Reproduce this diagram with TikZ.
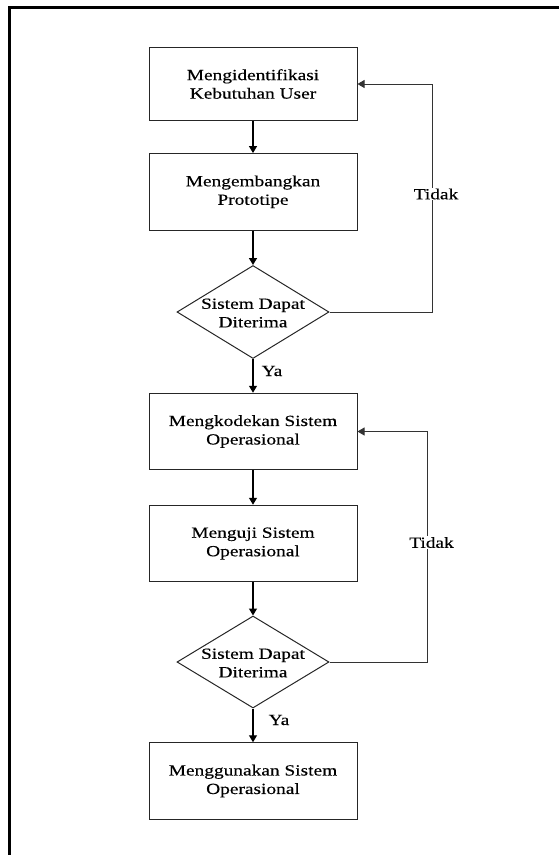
\documentclass[tikz,border=0pt]{standalone}
\usepackage{fontspec}
\setmainfont{Liberation Serif}[FakeStretch=1.25, FakeBold=0.3]
\usetikzlibrary{arrows.meta,shapes.geometric}

\tikzset{
  procbox/.style={draw=black!85, line width=1pt, rectangle, minimum width=208pt,
    minimum height=76.5pt, inner sep=0pt, align=center},
  decision/.style={draw=black!85, line width=1pt, diamond, minimum width=152pt,
    minimum height=93pt, inner sep=0pt},
  flow/.style={line width=1.5pt, -{Triangle[length=7pt,width=8pt]}},
  loopback/.style={draw=black!80, line width=1pt, -{Triangle[length=7pt,width=8pt]}},
  tag/.style={fill=white, inner sep=1pt},
}

\begin{document}
\begin{tikzpicture}[x=1pt, y=-1pt, font=\fontsize{15.5}{18.5}\selectfont]
\useasboundingbox (0,0) rectangle (558,855);

% page frame, open on the right and at the bottom
\draw[line width=2.2pt] (9.5,860) -- (9.5,7.5) -- (562,7.5);

% first phase: prototyping
\node[procbox, minimum height=73pt] (b1) at (253,84) {Mengidentifikasi\\Kebutuhan User};
\node[procbox] (b2) at (253,191.8) {Mengembangkan\\Prototipe};
\node[decision, label={[align=center, yshift=-1pt]center:Sistem Dapat\\Diterima}] (d1) at (253,312) {};

% second phase: operational system
\node[procbox] (b3) at (253,431.5) {Mengkodekan Sistem\\Operasional};
\node[procbox] (b4) at (253,543.5) {Menguji Sistem\\Operasional};
\node[decision, minimum height=92pt, label={[align=center, yshift=-1pt]center:Sistem Dapat\\Diterima}] (d2) at (253,662) {};
\node[procbox] (b5) at (253,781) {Menggunakan Sistem\\Operasional};

% main flow
\draw[flow] (b1) -- (b2);
\draw[flow] (b2) -- (d1.north);
\draw[flow, line width=1.2pt] (d1.south) -- (b3);
\draw[flow, line width=1.2pt] (b3) -- (b4);
\draw[flow, line width=1.2pt] (b4) -- (d2.north);
\draw[flow, line width=1.2pt] (d2.south) -- (b5);

\node (ya1) at (272,371) {Ya};
\node (ya2) at (279,720) {Ya};

% rejection loops
\coordinate (r1) at (432,0);
\coordinate (r2) at (427,0);
\draw[loopback] (d1.east) -- (d1.east -| r1) -- (b1.east -| r1) -- (b1.east);
\draw[loopback] (d2.east) -- (d2.east -| r2) -- (b3.east -| r2) -- (b3.east);

\node[tag] (t1) at (436,194) {Tidak};
\node[tag] (t2) at (431.5,542.5) {Tidak};
\end{tikzpicture}
\end{document}
